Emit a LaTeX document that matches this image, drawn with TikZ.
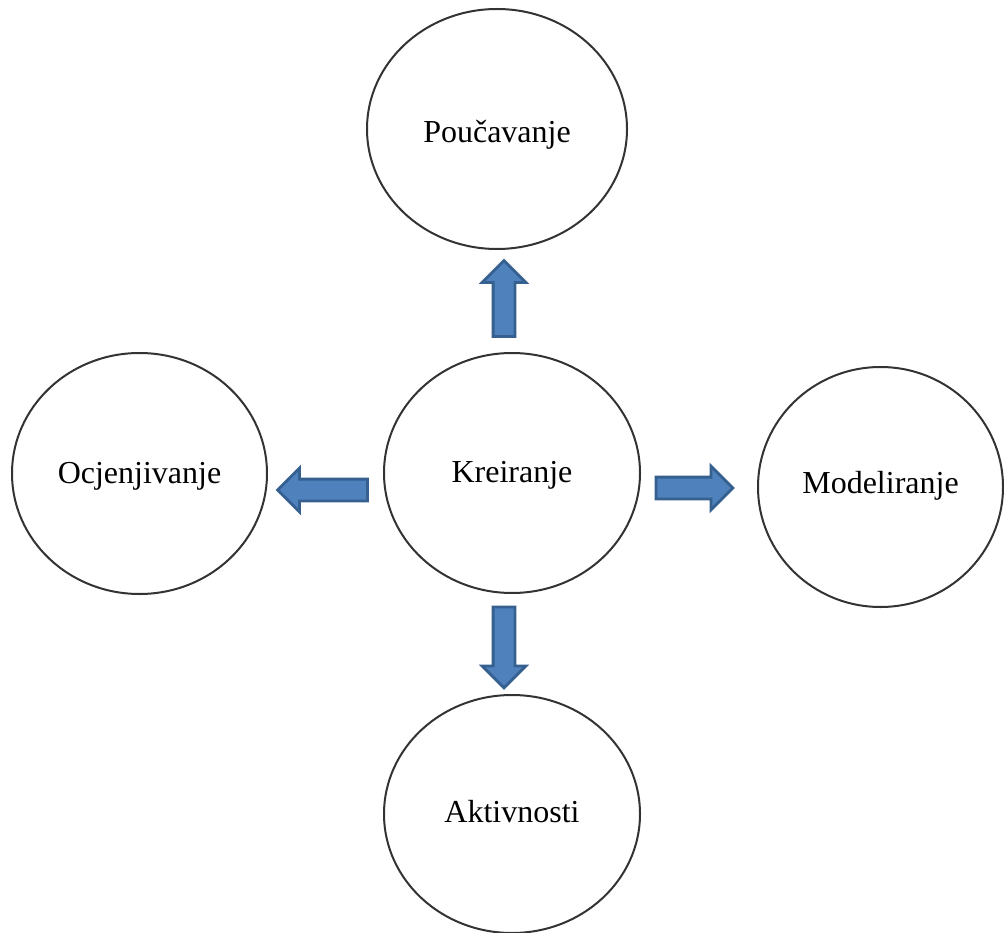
\documentclass[tikz,border=0pt]{standalone}
\usepackage{fontspec}
\setmainfont{Liberation Serif}
\usepackage{tikz}
\usepackage{xcolor}
\usetikzlibrary{positioning}
\usetikzlibrary{shapes.geometric}
\usetikzlibrary{shapes.arrows}
\definecolor{arrfill}{HTML}{4F81BD}
\definecolor{arrline}{HTML}{36608F}
\definecolor{ringline}{HTML}{333333}
\tikzset{mycircle/.style={ellipse, draw=ringline, line width=2pt, inner sep=0pt,
font=\fontsize{32}{36}\selectfont, text height=19pt, text depth=0pt},
myarrow/.style={single arrow, draw=arrline, fill=arrfill, line width=2.8pt,
inner xsep=0pt, inner ysep=9.5pt, minimum width=0pt, single arrow head extend=11pt,
single arrow tip angle=90}}

\begin{document}
\begin{tikzpicture}[x=1pt, y=-1pt]
					\useasboundingbox (0,0) rectangle (1004,933);
					% circles
					\node[mycircle, minimum width=260pt, minimum height=240pt, text height=27pt] (pou) at (497,129) {Poučavanje};
					\node[mycircle, minimum width=256pt, minimum height=240pt] (kre) at (512,473) {Kreiranje};
					\node[mycircle, minimum width=255pt, minimum height=241pt] (ocj) at (139.5,473.5) {Ocjenjivanje};
					\node[mycircle, minimum width=245pt, minimum height=240pt, text height=12pt] (mod) at (880.5,487) {Modeliranje};
					\node[mycircle, minimum width=256pt, minimum height=238pt, text height=16pt] (akt) at (512,814) {Aktivnosti};
					% arrows
					\node[myarrow, minimum height=76pt, rotate=90] (apou) at (504,304) {};
					\node[myarrow, minimum height=90pt, rotate=180] (aocj) at (328,490) {};
					\node[myarrow, minimum height=77pt] (amod) at (689,488) {};
					\node[myarrow, minimum height=81pt, rotate=-90] (aakt) at (504,642) {};
			\end{tikzpicture}
\end{document}
